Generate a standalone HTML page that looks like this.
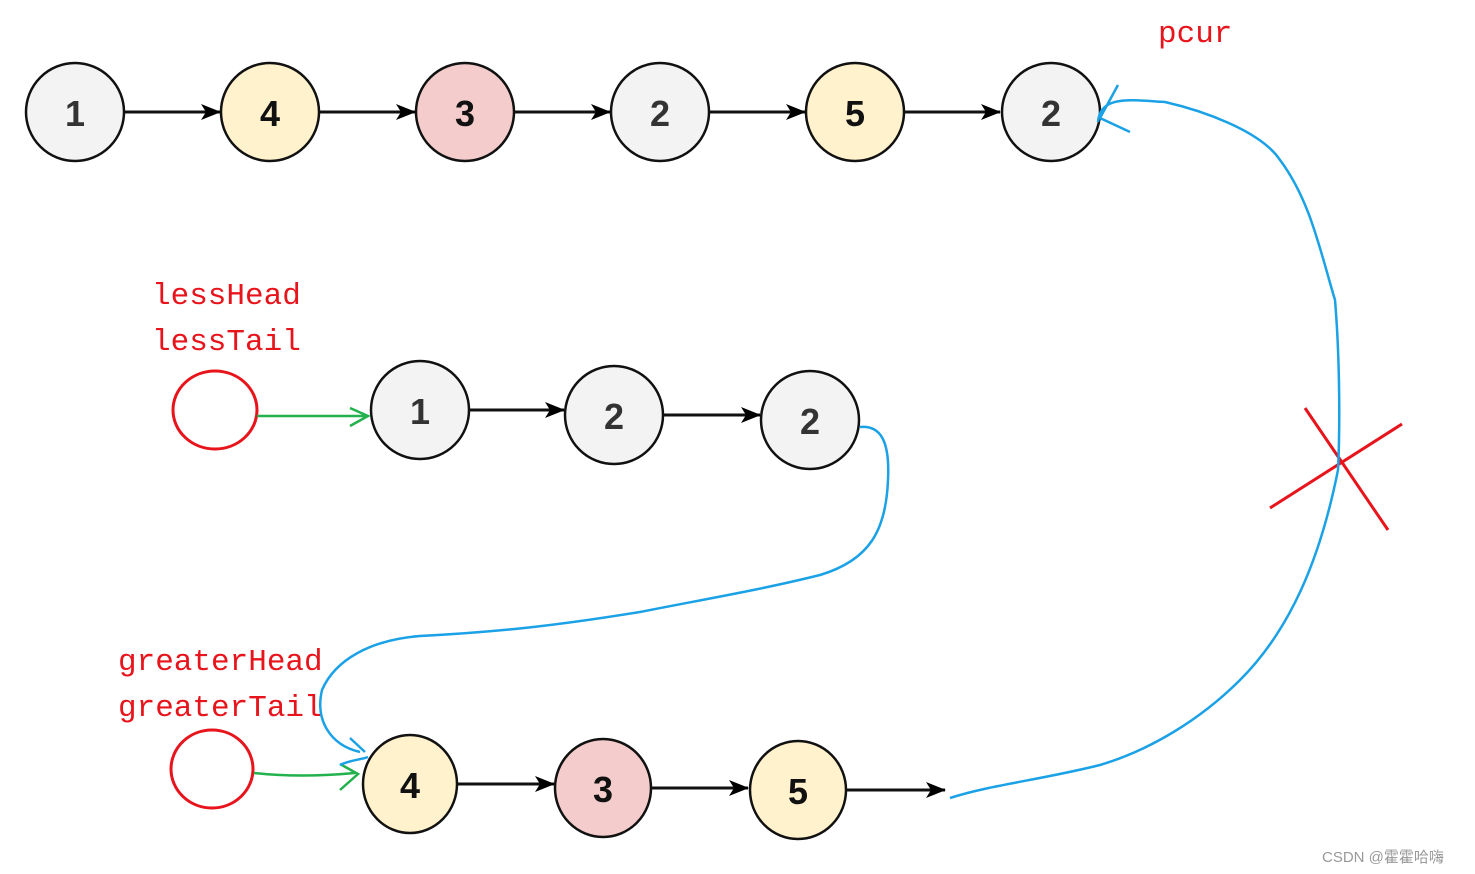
<!DOCTYPE html>
<html><head><meta charset="utf-8"><style>
html,body{margin:0;padding:0;background:#fff;width:1475px;height:874px;overflow:hidden}
svg text{font-family:"Liberation Sans",sans-serif}
svg text.m{font-family:"Liberation Mono",monospace}
</style></head><body>
<svg width="1475" height="874" viewBox="0 0 1475 874" xmlns="http://www.w3.org/2000/svg">
<defs>
<marker id="a" markerWidth="20" markerHeight="16" refX="19" refY="8" orient="auto" markerUnits="userSpaceOnUse">
<path d="M0,0 L20,8 L0,16 L5,8 Z" fill="#000"/></marker>
</defs>
<g stroke="#111" stroke-width="3">
<line x1="124" y1="112" x2="220" y2="112" marker-end="url(#a)"/>
<line x1="319" y1="112" x2="415" y2="112" marker-end="url(#a)"/>
<line x1="514" y1="112" x2="610" y2="112" marker-end="url(#a)"/>
<line x1="709" y1="112" x2="805" y2="112" marker-end="url(#a)"/>
<line x1="904" y1="112" x2="1000" y2="112" marker-end="url(#a)"/>
<line x1="469" y1="410" x2="564" y2="410" marker-end="url(#a)"/>
<line x1="664" y1="415" x2="760" y2="415" marker-end="url(#a)"/>
<line x1="457" y1="784" x2="554" y2="784" marker-end="url(#a)"/>
<line x1="652" y1="788" x2="748" y2="788" marker-end="url(#a)"/>
<line x1="847" y1="790" x2="945" y2="790" marker-end="url(#a)"/>
</g>
<g stroke="#111" stroke-width="2.5">
<circle cx="75" cy="112" r="49" fill="#f3f3f3"/>
<circle cx="270" cy="112" r="49" fill="#fff2cc"/>
<circle cx="465" cy="112" r="49" fill="#f4cccc"/>
<circle cx="660" cy="112" r="49" fill="#f3f3f3"/>
<circle cx="855" cy="112" r="49" fill="#fff2cc"/>
<circle cx="1051" cy="112" r="49" fill="#f3f3f3"/>
<circle cx="420" cy="410" r="49" fill="#f3f3f3"/>
<circle cx="614" cy="415" r="49" fill="#f3f3f3"/>
<circle cx="810" cy="420" r="49" fill="#f3f3f3"/>
<ellipse cx="410" cy="784" rx="47" ry="49" fill="#fff2cc"/>
<ellipse cx="603" cy="788" rx="48" ry="49" fill="#f4cccc"/>
<ellipse cx="798" cy="790" rx="48" ry="49" fill="#fff2cc"/>
</g>
<g font-size="36" font-weight="bold" text-anchor="middle" fill="#333">
<text x="75" y="126">1</text><text x="270" y="126" fill="#111">4</text><text x="465" y="126" fill="#111">3</text>
<text x="660" y="126">2</text><text x="855" y="126" fill="#111">5</text><text x="1051" y="126">2</text>
<text x="420" y="424">1</text><text x="614" y="429">2</text><text x="810" y="434">2</text>
<text x="410" y="798" fill="#111">4</text><text x="603" y="802" fill="#111">3</text><text x="798" y="804" fill="#111">5</text>
</g>
<g fill="#e8141c" font-size="31">
<text class="m" x="1158" y="42">pcur</text>
<text class="m" x="152" y="304">lessHead</text>
<text class="m" x="152" y="350">lessTail</text>
<text class="m" x="118" y="670">greaterHead</text>
<text class="m" x="118" y="716">greaterTail</text>
</g>
<g fill="none" stroke="#e8141c" stroke-width="3">
<ellipse cx="215" cy="410" rx="42" ry="39"/>
<ellipse cx="212" cy="769" rx="41" ry="39"/>
<line x1="1305" y1="408" x2="1388" y2="530"/>
<line x1="1270" y1="508" x2="1402" y2="424"/>
</g>
<g fill="none" stroke="#22b14c" stroke-width="2.5">
<path d="M257 416 L368 416 M350 408 L368 416 L350 426"/>
<path d="M254 773 Q300 778 355 773 M340 764 L358 774 L340 790"/>
</g>
<g fill="none" stroke="#1aa1e6" stroke-width="2.5">
<path d="M1098 122 C1100 95 1130 100 1165 102 C1200 110 1260 130 1280 160 C1310 200 1320 250 1335 300 C1340 360 1340 430 1338 470 C1320 560 1290 630 1240 680 C1200 720 1150 750 1100 765 C1040 780 990 785 950 798"/>
<path d="M1118 85 L1100 118 L1130 132"/>
<path d="M860 427 C880 425 890 440 888 480 C886 530 870 560 820 575 C760 590 700 600 640 612 C560 625 500 632 420 636 C370 640 335 660 322 690 C315 720 330 745 360 752 M340 765 C350 760 360 760 368 757 M350 738 L365 752"/>
</g>
<text x="1322" y="862" font-size="15" fill="#999" style="font-family:'Liberation Sans','Noto Sans CJK SC',sans-serif">CSDN @霍霍哈嗨</text>
</svg>
</body></html>
